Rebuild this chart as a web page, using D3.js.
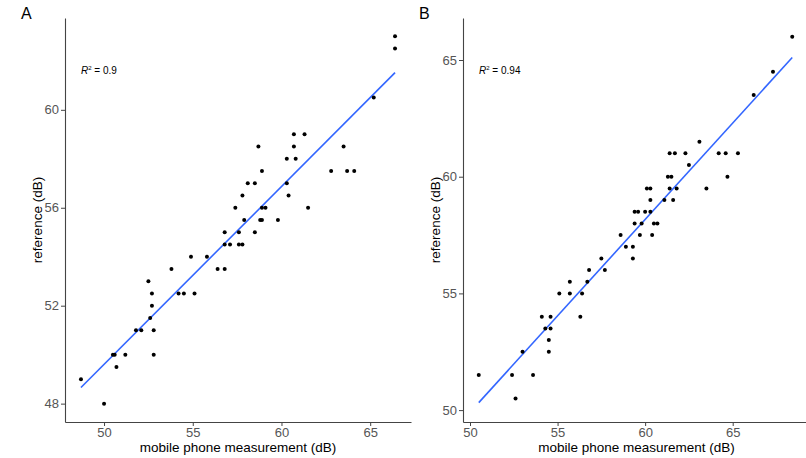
<!DOCTYPE html>
<html>
<head>
<meta charset="utf-8">
<script src="https://cdn.jsdelivr.net/npm/d3@7/dist/d3.min.js"></script>
<style>
  body { margin: 0; background: #fff; }
  svg { display: block; font-family: "Liberation Sans", Arial, sans-serif; }
</style>
</head>
<body>
<div id="graph"></div>
<script>
//************************************ Part 0. Data ************************************//
// panel A: mobile phone vs reference (dB)
var mobileA = [60.7, 61.3, 58.7, 60.7, 63.5, 60.3, 60.8, 58.9, 62.8, 63.7, 64.1, 58.1, 58.5, 60.3,
               57.8, 60.4, 57.4, 58.9, 59.1, 61.5, 57.9, 58.8, 58.9, 59.8, 56.8, 57.6, 58.5, 56.8,
               57.1, 57.6, 57.8, 54.9, 55.8, 56.4, 56.8, 53.8, 52.5, 52.7, 54.2, 54.5, 55.1, 52.7,
               52.6, 51.8, 52.1, 52.8, 50.5, 50.6, 51.2, 52.8, 50.7, 48.7, 50.0, 66.4, 66.4, 65.2];
var referenceA = [59.0, 59.0, 58.5, 58.5, 58.5, 58.0, 58.0, 57.5, 57.5, 57.5, 57.5, 57.0, 57.0, 57.0,
                  56.5, 56.5, 56.0, 56.0, 56.0, 56.0, 55.5, 55.5, 55.5, 55.5, 55.0, 55.0, 55.0, 54.5,
                  54.5, 54.5, 54.5, 54.0, 54.0, 53.5, 53.5, 53.5, 53.0, 52.5, 52.5, 52.5, 52.5, 52.0,
                  51.5, 51.0, 51.0, 51.0, 50.0, 50.0, 50.0, 50.0, 49.5, 49.0, 48.0, 63.0, 62.5, 60.5];

// panel B
var mobileB = [68.4, 67.3, 66.2, 63.1, 62.3, 64.2, 64.6, 65.3, 61.4, 61.7, 62.5, 64.7, 61.3, 61.5,
               60.1, 60.3, 61.4, 61.8, 63.5, 60.3, 61.1, 61.6, 59.4, 59.6, 60.0, 60.3, 59.4, 59.8,
               60.5, 60.7, 58.6, 59.7, 60.4, 58.9, 59.3, 57.5, 59.3, 56.8, 57.7, 55.7, 56.7, 55.1,
               55.7, 56.4, 54.1, 54.6, 56.3, 54.3, 54.6, 54.5, 54.5, 53.0, 50.5, 52.4, 53.6, 52.6];
var referenceB = [66.0, 64.5, 63.5, 61.5, 61.0, 61.0, 61.0, 61.0, 61.0, 61.0, 60.5, 60.0, 60.0, 60.0,
                  59.5, 59.5, 59.5, 59.5, 59.5, 59.0, 59.0, 59.0, 58.5, 58.5, 58.5, 58.5, 58.0, 58.0,
                  58.0, 58.0, 57.5, 57.5, 57.5, 57.0, 57.0, 56.5, 56.5, 56.0, 56.0, 55.5, 55.5, 55.0,
                  55.0, 55.0, 54.0, 54.0, 54.0, 53.5, 53.5, 53.0, 52.5, 52.5, 51.5, 51.5, 51.5, 50.5];

// ticks and labels
var xTicksA = [50, 55, 60, 65];
var yTicksA = [48, 52, 56, 60];
var xTicksB = [50, 55, 60, 65];
var yTicksB = [50, 55, 60, 65];
var xDomainA = [47.8, 67.3], yDomainA = [47.25, 63.75];
var xDomainB = [49.6, 69.3], yDomainB = [49.49, 66.8];
var panelLabels = ["A", "B"];
var r2Labels = ["0.9", "0.94"];
var xTitle = "mobile phone measurement (dB)";
var yTitle = "reference (dB)";

//************************************ Part 1. Global variables ************************************//
var width = 806,
    height = 458;
var dotRadius = 2;

var svg = d3.select('#graph')
  .append('svg')
    .attr('width', width)
    .attr('height', height);

//least squares fit, same as geom_smooth(method = "lm")
function linearFit(xs, ys) {
  var mx = d3.mean(xs), my = d3.mean(ys);
  var sxy = 0, sxx = 0;
  for (var i = 0; i < xs.length; i++) {
    sxy += (xs[i] - mx) * (ys[i] - my);
    sxx += (xs[i] - mx) * (xs[i] - mx);
  }
  var slope = sxy / sxx;
  return { slope: slope, intercept: my - slope * mx };
}

//************************************ Part 2. Draw one panel ************************************//
var drawPanel = function(p) {
  var x = d3.scaleLinear().domain(p.xDomain).range([p.left, p.right]);
  var y = d3.scaleLinear().domain(p.yDomain).range([p.bottom, p.top]);

  var g = svg.append('g');

  // axes
  var xAxis = g.append('g')
    .attr('transform', 'translate(0,' + p.bottom + ')')
    .call(d3.axisBottom(x).tickValues(p.xTicks).tickSize(4).tickSizeOuter(0).tickPadding(2));
  var yAxis = g.append('g')
    .attr('transform', 'translate(' + p.left + ',0)')
    .call(d3.axisLeft(y).tickValues(p.yTicks).tickSize(4).tickSizeOuter(0).tickPadding(2));

  [xAxis, yAxis].forEach(function(a) {
    a.select('.domain').attr('stroke', '#444').attr('stroke-width', 1.1);
    a.selectAll('.tick line').attr('stroke', '#444');
    a.selectAll('.tick text').attr('fill', '#555').style('font-size', '13px').style('font-family', null);
  });

  // regression line
  var fit = linearFit(p.xs, p.ys);
  var ext = d3.extent(p.xs);
  g.append('line')
    .attr('x1', x(ext[0])).attr('y1', y(fit.intercept + fit.slope * ext[0]))
    .attr('x2', x(ext[1])).attr('y2', y(fit.intercept + fit.slope * ext[1]))
    .attr('stroke', '#3366ff')
    .attr('stroke-width', 1.6);

  // points
  g.selectAll('circle')
    .data(p.xs.map(function(d, i) { return [d, p.ys[i]]; }))
    .enter().append('circle')
      .attr('cx', function(d) { return x(d[0]); })
      .attr('cy', function(d) { return y(d[1]); })
      .attr('r', dotRadius)
      .attr('fill', '#000');

  // R^2 annotation
  var r2 = g.append('text')
    .attr('x', p.left + 16)
    .attr('y', 74)
    .style('font-size', '10px')
    .attr('fill', '#000');
  r2.append('tspan').style('font-style', 'italic').text('R');
  r2.append('tspan').attr('dy', -4).style('font-size', '6px').text('2');
  r2.append('tspan').attr('dy', 4).text(' = ' + p.r2);

  // titles
  g.append('text')
    .attr('x', (p.left + Math.min(p.right, width)) / 2 + (p.right > width ? 2 : 0))
    .attr('y', 452)
    .attr('text-anchor', 'middle')
    .style('font-size', '13.5px')
    .text(xTitle);
  g.append('text')
    .attr('transform', 'translate(' + (p.left - 23) + ',' + ((p.top + p.bottom) / 2) + ') rotate(-90)')
    .attr('text-anchor', 'middle')
    .style('font-size', '13.5px')
    .text(yTitle);

  // panel tag
  g.append('text')
    .attr('x', p.tagX)
    .attr('y', 19)
    .style('font-size', '16px')
    .text(p.tag);
}

drawPanel({ xs: mobileA, ys: referenceA, xDomain: xDomainA, yDomain: yDomainA,
            xTicks: xTicksA, yTicks: yTicksA, left: 65, right: 411, top: 18, bottom: 422,
            r2: r2Labels[0], tag: panelLabels[0], tagX: 21 });
drawPanel({ xs: mobileB, ys: referenceB, xDomain: xDomainB, yDomain: yDomainB,
            xTicks: xTicksB, yTicks: yTicksB, left: 463, right: 808, top: 18, bottom: 422,
            r2: r2Labels[1], tag: panelLabels[1], tagX: 419 });

//the end
</script>
</body>
</html>
